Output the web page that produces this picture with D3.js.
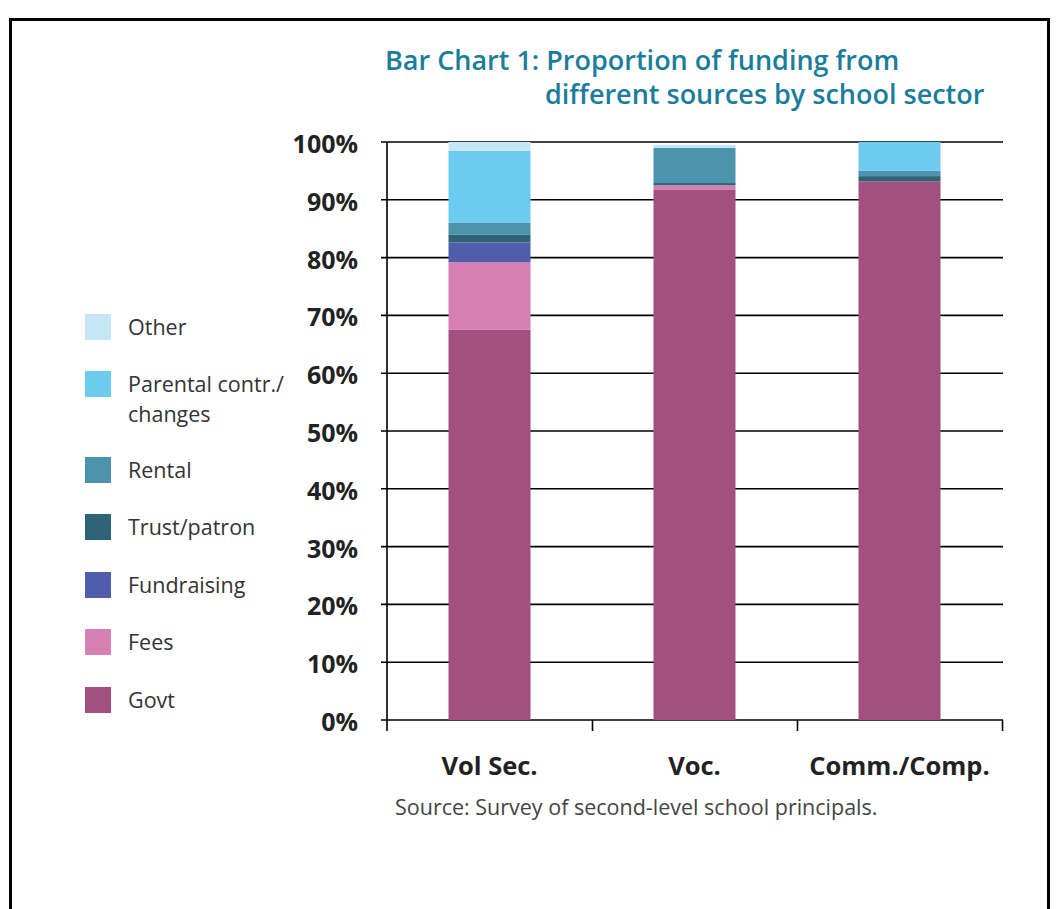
<!DOCTYPE html>
<html>
<head>
<meta charset="utf-8">
<script src="https://cdn.jsdelivr.net/npm/d3@7"></script>
<style>
  body { margin: 0; background: #fff; }
  text { font-family: "Open Sans", sans-serif; }
</style>
</head>
<body>
<svg id="chart" width="1057" height="909"></svg>
<script>
'use strict'

// categories and series (percent of funding)
var sectors  = ["Vol Sec.", "Voc.", "Comm./Comp."]
var sources  = ["Govt", "Fees", "Fundraising", "Trust/patron", "Rental", "Parental", "Other"]
var legendLabels = {
  "Other": ["Other"],
  "Parental": ["Parental contr./", "changes"],
  "Rental": ["Rental"],
  "Trust/patron": ["Trust/patron"],
  "Fundraising": ["Fundraising"],
  "Fees": ["Fees"],
  "Govt": ["Govt"]
}
var govt        = [67.5, 91.7, 93.2]
var fees        = [11.7, 0.8, 0.0]
var fundraising = [3.4, 0.0, 0.0]
var trust       = [1.4, 0.4, 0.9]
var rental      = [2.0, 6.1, 0.9]
var parental    = [12.5, 0.0, 5.0]
var other       = [1.5, 0.5, 0.0]
var yTicks = [0, 10, 20, 30, 40, 50, 60, 70, 80, 90, 100]

var colors = {
  "Govt": "#a2517f",
  "Fees": "#d57fb4",
  "Fundraising": "#4f5dac",
  "Trust/patron": "#2f6476",
  "Rental": "#4d93ae",
  "Parental": "#6ccbef",
  "Other": "#c4e6f5"
}

var svg = d3.select("#chart")

// frame
svg.append("rect")
  .attr("x", 10.5).attr("y", 19.5)
  .attr("width", 1038).attr("height", 920)
  .attr("fill", "none").attr("stroke", "#000").attr("stroke-width", 3)

// title
var title = svg.append("g").attr("fill", "#1b7d9b").attr("font-weight", 600).attr("font-size", 27)
title.append("text").attr("x", 385).attr("y", 70).text("Bar Chart 1: Proportion of funding from")
title.append("text").attr("x", 545).attr("y", 104).text("different sources by school sector")

// table rows for d3.stack
var table = sectors.map((s, i) => ({
  sector: s,
  "Govt": govt[i], "Fees": fees[i], "Fundraising": fundraising[i],
  "Trust/patron": trust[i], "Rental": rental[i], "Parental": parental[i], "Other": other[i]
}))
var series = d3.stack().keys(sources)(table)

var y = d3.scaleLinear().domain([0, 100]).range([720, 142])
var x = d3.scaleBand().domain(sectors).range([387, 1002])
  .paddingInner(0.6).paddingOuter(0.3)
var xEdge = d3.scaleLinear().domain([0, sectors.length]).range([387, 1002])

// gridlines
svg.append("g")
  .selectAll("line")
  .data(yTicks)
  .enter()
    .append("line")
    .attr("x1", 381).attr("x2", 1003)
    .attr("y1", d => y(d)).attr("y2", d => y(d))
    .attr("stroke", "#000").attr("stroke-width", 1.6)

// stacked bars
svg.append("g")
  .selectAll("g")
  .data(series)
  .enter()
    .append("g")
    .attr("fill", d => colors[d.key])
    .selectAll("rect")
    .data(d => d)
    .enter()
      .append("rect")
      .attr("x", d => x(d.data.sector))
      .attr("width", x.bandwidth())
      .attr("y", d => y(d[1]))
      .attr("height", d => y(d[0]) - y(d[1]))

// y axis line + labels
svg.append("line")
  .attr("x1", 387).attr("x2", 387).attr("y1", y(100)).attr("y2", 731)
  .attr("stroke", "#000").attr("stroke-width", 1.6)

svg.append("g")
  .selectAll("text")
  .data(yTicks)
  .enter()
    .append("text")
    .attr("x", 358)
    .attr("y", d => y(d) + 11)
    .attr("text-anchor", "end")
    .attr("font-size", 25).attr("font-weight", 700).attr("fill", "#222")
    .text(d => d + "%")

// x ticks at category edges
var xAxis = svg.append("g")
  .attr("transform", "translate(0," + y(0) + ")")
  .call(d3.axisBottom(xEdge).tickValues([1, 2, 3]).tickFormat("").tickSize(11).tickSizeOuter(0))
xAxis.select(".domain").remove()
xAxis.selectAll("line").attr("stroke", "#000").attr("stroke-width", 1.6)

// x labels
var xLab = svg.append("g")
  .attr("transform", "translate(0,775)")
  .call(d3.axisBottom(x).tickSize(0).tickPadding(0))
xLab.select(".domain").remove()
xLab.selectAll("text")
  .attr("dy", 0)
  .attr("font-family", "Open Sans, sans-serif")
  .attr("font-size", 25.5).attr("font-weight", 700).attr("fill", "#222")

// source note
svg.append("text")
  .attr("x", 395).attr("y", 815)
  .attr("font-size", 21.5).attr("fill", "#444")
  .text("Source: Survey of second-level school principals.")

// legend (top to bottom)
var legendOrder = sources.slice().reverse()
var legendY = [327, 384, 470, 527, 585, 642, 700]
var leg = svg.append("g")
  .selectAll("g")
  .data(legendOrder)
  .enter()
    .append("g")
    .attr("transform", (d, i) => "translate(85," + legendY[i] + ")")

leg.append("rect")
  .attr("x", 0).attr("y", -13)
  .attr("width", 26).attr("height", 26)
  .attr("fill", d => colors[d])

leg.append("text")
  .attr("x", 43).attr("y", 8)
  .attr("font-size", 21.5).attr("fill", "#333")
  .selectAll("tspan")
  .data(d => legendLabels[d])
  .enter()
    .append("tspan")
    .attr("x", 43)
    .attr("dy", (d, i) => i ? 30 : 0)
    .text(d => d)
</script>
</body>
</html>
